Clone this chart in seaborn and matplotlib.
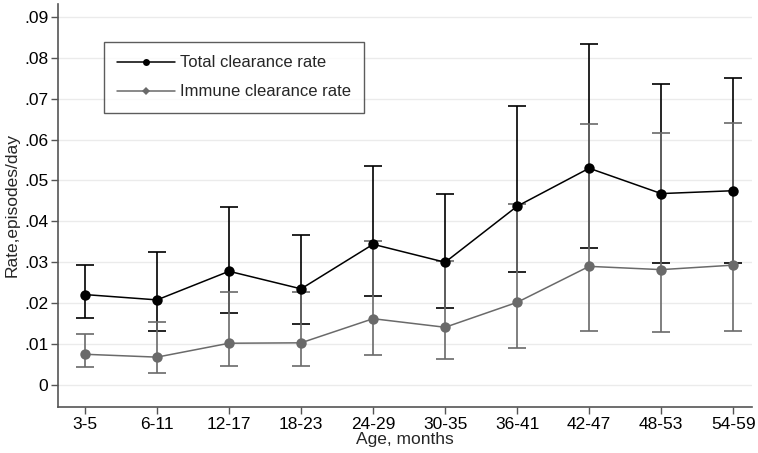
import numpy as np
import pandas as pd
import matplotlib
matplotlib.use("Agg")
import matplotlib.pyplot as plt
import seaborn as sns
from matplotlib.lines import Line2D
from matplotlib.ticker import FuncFormatter

ages = ["3-5", "6-11", "12-17", "18-23", "24-29", "30-35", "36-41", "42-47", "48-53", "54-59"]
total_rate = [0.0221, 0.0208, 0.0278, 0.0235, 0.0344, 0.0300, 0.0437, 0.0530, 0.0468, 0.0475]
total_lo = [0.0164, 0.0132, 0.0176, 0.0150, 0.0218, 0.0189, 0.0277, 0.0336, 0.0297, 0.0299]
total_hi = [0.0293, 0.0325, 0.0434, 0.0366, 0.0535, 0.0466, 0.0682, 0.0833, 0.0735, 0.0750]
immune_rate = [0.0075, 0.0068, 0.0102, 0.0103, 0.0162, 0.0141, 0.0202, 0.0290, 0.0282, 0.0293]
immune_lo = [0.0045, 0.0030, 0.0046, 0.0047, 0.0072, 0.0063, 0.0091, 0.0132, 0.0129, 0.0133]
immune_hi = [0.0125, 0.0154, 0.0228, 0.0227, 0.0352, 0.0302, 0.0443, 0.0637, 0.0615, 0.0640]
yticks = [0, 0.01, 0.02, 0.03, 0.04, 0.05, 0.06, 0.07, 0.08, 0.09]

sns.set_theme(style="white")
plt.rcParams['font.family'] = ['Liberation Sans', 'DejaVu Sans']

BLACK = "#000000"
GRAY = "#6a6a6a"
SPINE = "#555555"

pos = np.arange(len(ages))
df = pd.DataFrame({
    "pos": np.concatenate([pos, pos]),
    "rate": total_rate + immune_rate,
    "series": ["Total clearance rate"] * len(ages) + ["Immune clearance rate"] * len(ages),
})

fig = plt.figure(figsize=(7.58, 4.53), dpi=100)
ax = fig.add_axes([0.0765, 0.1015, 0.9155, 0.89])

for rate, lo, hi, col in [(total_rate, total_lo, total_hi, BLACK),
                          (immune_rate, immune_lo, immune_hi, GRAY)]:
    r = np.array(rate)
    yerr = np.vstack([r - np.array(lo), np.array(hi) - r])
    ax.errorbar(pos, r, yerr=yerr, fmt="none", ecolor=col, elinewidth=1.2,
                capsize=6.5, capthick=1.2, zorder=2)

sns.lineplot(data=df, x="pos", y="rate", hue="series", palette=[BLACK, GRAY],
             marker="o", markersize=7.5, markeredgewidth=0, linewidth=1.1,
             ax=ax, legend=False, zorder=3)

ax.set_xlim(-0.375, 9.26)
ax.set_ylim(-0.0054, 0.0932)
ax.set_xticks(pos)
ax.set_xticklabels(ages)
ax.set_yticks(yticks)
ax.yaxis.set_major_formatter(FuncFormatter(lambda v, p: "0" if abs(v) < 1e-9 else ("%.2f" % v).lstrip("0")))
ax.tick_params(axis="both", which="major", direction="out", length=5, width=1,
               color=SPINE, labelsize=12.5, labelcolor="black", pad=2, left=True, bottom=True)
ax.grid(axis="y", color="#ebebeb", linewidth=1)
ax.grid(axis="x", visible=False)
for s in ["top", "right"]:
    ax.spines[s].set_visible(False)
for s in ["left", "bottom"]:
    ax.spines[s].set_color(SPINE)
    ax.spines[s].set_linewidth(1.2)

ax.set_xlabel("Age, months", fontsize=12.5, labelpad=0)
ax.set_ylabel("Rate,episodes/day", fontsize=12.5, labelpad=3)

handles = [
    Line2D([0], [0], color=BLACK, lw=1.1, marker="o", markersize=5, markeredgewidth=0),
    Line2D([0], [0], color=GRAY, lw=1.1, marker="D", markersize=4, markeredgewidth=0),
]
leg = ax.legend(handles, ["Total clearance rate", "Immune clearance rate"],
                loc="upper left", bbox_to_anchor=(0.066, 0.905), fontsize=12,
                frameon=True, fancybox=False, edgecolor="#333333", handlelength=3.5,
                borderpad=0.8, labelspacing=0.84, handletextpad=0.25, borderaxespad=0)
leg.get_frame().set_linewidth(1.0)

fig.savefig("out.png", dpi=100)
